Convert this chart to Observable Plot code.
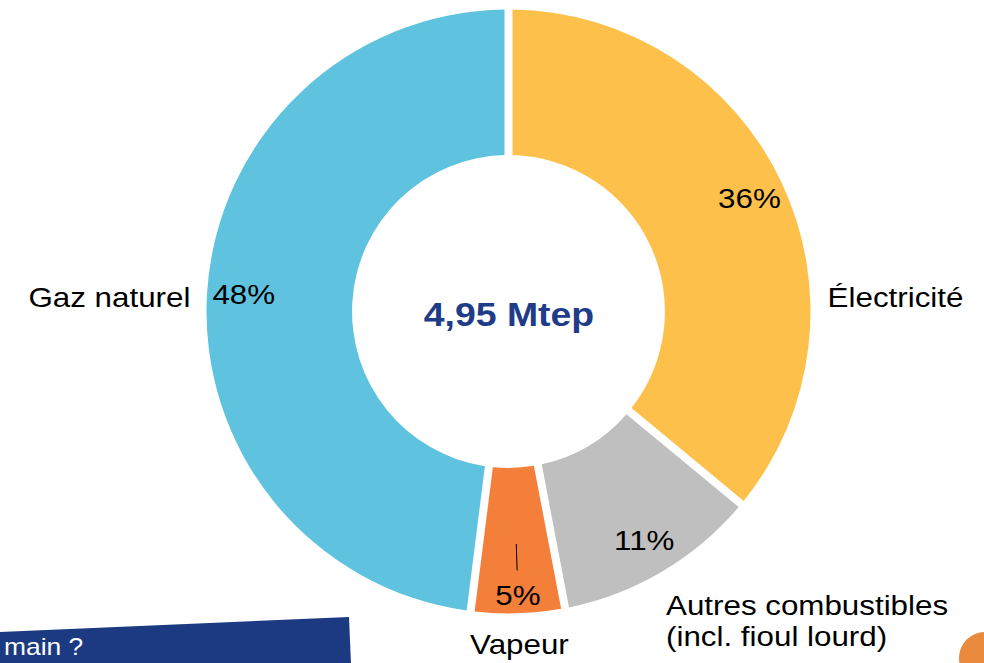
<!DOCTYPE html>
<html>
<head>
<meta charset="utf-8">
<script src="https://cdn.jsdelivr.net/npm/d3@7"></script>
<script src="https://cdn.jsdelivr.net/npm/@observablehq/plot@0.6"></script>
<style>
  html, body { margin: 0; padding: 0; background: #fff; overflow: hidden; }
  #wrap { position: relative; width: 984px; height: 663px; overflow: hidden; font-family: "Liberation Sans", Arial, Helvetica, sans-serif; }
  #chart { position: absolute; left: 0; top: 0; }
  #banner { position: absolute; left: -31px; top: 617px; width: 380px; height: 90px; background: #1B3A82; transform: rotate(-2.45deg); transform-origin: right top; }
  #bannerText { position: absolute; left: 4px; top: 634px; font-size: 24px; line-height: 26px; color: #fff; white-space: nowrap; transform: scaleX(1.1); transform-origin: left top; }
  #logo { position: absolute; left: 959px; top: 632px; width: 52px; height: 52px; background: #EA8A3C; border-radius: 60% 60% 10% 60%; }
</style>
</head>
<body>
<div id="wrap">
  <div id="chart"></div>
  <div id="banner"></div>
  <div id="bannerText">main ?</div>
  <div id="logo"></div>
</div>
<script>
// ---- Data ----
const categories = ["Électricité", "Autres combustibles\n(incl. fioul lourd)", "Vapeur", "Gaz naturel"];
const shares = [36, 11, 5, 48];
const pctLabels = ["36%", "11%", "5%", "48%"];
const colors = ["#FDC04A", "#BFBFBF", "#F47F3A", "#5FC3E0"];
const totalLabel = "4,95 Mtep";

// ---- Layout ----
const W = 984, H = 663;
const R = 302;              // outer radius in px (1 unit)
const cx = 508.5, cy = 311.5;
const innerRatio = 0.518;
const gapPx = 8;
const textStretch = 1.1;    // the reference font is drawn slightly wide

const rows = categories.map((c, i) => ({category: c, value: shares[i], pct: pctLabels[i], color: colors[i]}));
const pie = d3.pie().sort(null).value(d => d.value).startAngle(0).endAngle(2 * Math.PI);
const arcs = pie(rows).map(a => {
  const mid = (a.startAngle + a.endAngle) / 2;
  return {...a.data, startAngle: a.startAngle, endAngle: a.endAngle, mid, sx: Math.sin(mid), cy: Math.cos(mid)};
});

// percentage labels: inside the ring; small slices pushed out with a leader
const pctData = arcs.map(d => {
  const small = d.value < 8;
  const r = small ? 0.94 : 0.88;
  return {...d, x: r * d.sx, y: r * d.cy, small};
});
const leaders = pctData.filter(d => d.small).flatMap(d => [
  {id: d.category, x: 0.77 * d.sx, y: 0.77 * d.cy},
  {id: d.category, x: 0.855 * d.sx, y: 0.855 * d.cy}
]);

// category labels: side labels sit level with the centre, bottom labels follow the slice angle
const catData = arcs.map(d => {
  const side = Math.abs(d.sx) > 0.85;
  if (side) {
    return {...d, x: Math.sign(d.sx) * 1.055, y: 0.05, anchor: d.sx > 0 ? "start" : "end"};
  }
  const r = 1.1;
  const anchor = d.sx > 0.3 ? "start" : (d.sx < -0.3 ? "end" : "middle");
  const shift = anchor === "start" ? -0.04 : 0;
  return {...d, x: r * d.sx + shift, y: r * d.cy - (anchor === "start" ? 0.075 : 0), anchor};
});

// donut mark rendered through the plot's scales
function donut(...args) {
  const scales = args.find(a => a && typeof a.x === "function" && typeof a.y === "function");
  const x = scales.x, y = scales.y;
  const ox = x(0), oy = y(0);
  const outer = x(1) - x(0);
  const inner = outer * innerRatio;
  const arcGen = d3.arc()
    .innerRadius(inner)
    .outerRadius(outer)
    .padRadius(outer)
    .padAngle(gapPx / outer);
  const g = d3.create("svg:g").attr("transform", `translate(${ox},${oy})`);
  g.selectAll("path")
    .data(arcs)
    .join("path")
    .attr("d", d => arcGen({startAngle: d.startAngle, endAngle: d.endAngle}))
    .attr("fill", d => d.color);
  return g.node();
}

const fs = 28.5;
const plot = Plot.plot({
  width: W,
  height: H,
  margin: 0,
  style: {fontFamily: '"Liberation Sans", Arial, Helvetica, sans-serif', background: "transparent"},
  x: {domain: [-cx / R, (W - cx) / R], axis: null},
  y: {domain: [-(H - cy) / R, cy / R], axis: null},
  marks: [
    donut,
    Plot.line(leaders, {x: "x", y: "y", z: "id", stroke: "#000", strokeWidth: 1}),
    Plot.text(pctData, {x: "x", y: "y", text: "pct", fontSize: fs, fill: "#000"}),
    Plot.text(catData.filter(d => d.anchor === "start"), {x: "x", y: "y", text: "category", textAnchor: "start", lineHeight: 1.1, fontSize: fs, fill: "#000"}),
    Plot.text(catData.filter(d => d.anchor === "end"), {x: "x", y: "y", text: "category", textAnchor: "end", lineHeight: 1.1, fontSize: fs, fill: "#000"}),
    Plot.text(catData.filter(d => d.anchor === "middle"), {x: "x", y: "y", text: "category", textAnchor: "middle", lineHeight: 1.1, fontSize: fs, fill: "#000"}),
    Plot.text([totalLabel], {x: 0, y: -0.01, text: d => d, fontSize: 34, fontWeight: "bold", fill: "#1F3C88"})
  ]
});

// widen the glyphs slightly around each text's own anchor, like the reference
d3.select(plot).selectAll("text").each(function () {
  const t = this.getAttribute("transform");
  if (t) {
    this.setAttribute("transform", t + ` scale(${textStretch},1)`);
  } else {
    const x = +this.getAttribute("x") || 0, y = +this.getAttribute("y") || 0;
    this.setAttribute("transform", `translate(${x},${y}) scale(${textStretch},1) translate(${-x},${-y})`);
  }
});

document.getElementById("chart").appendChild(plot);
</script>
</body>
</html>
